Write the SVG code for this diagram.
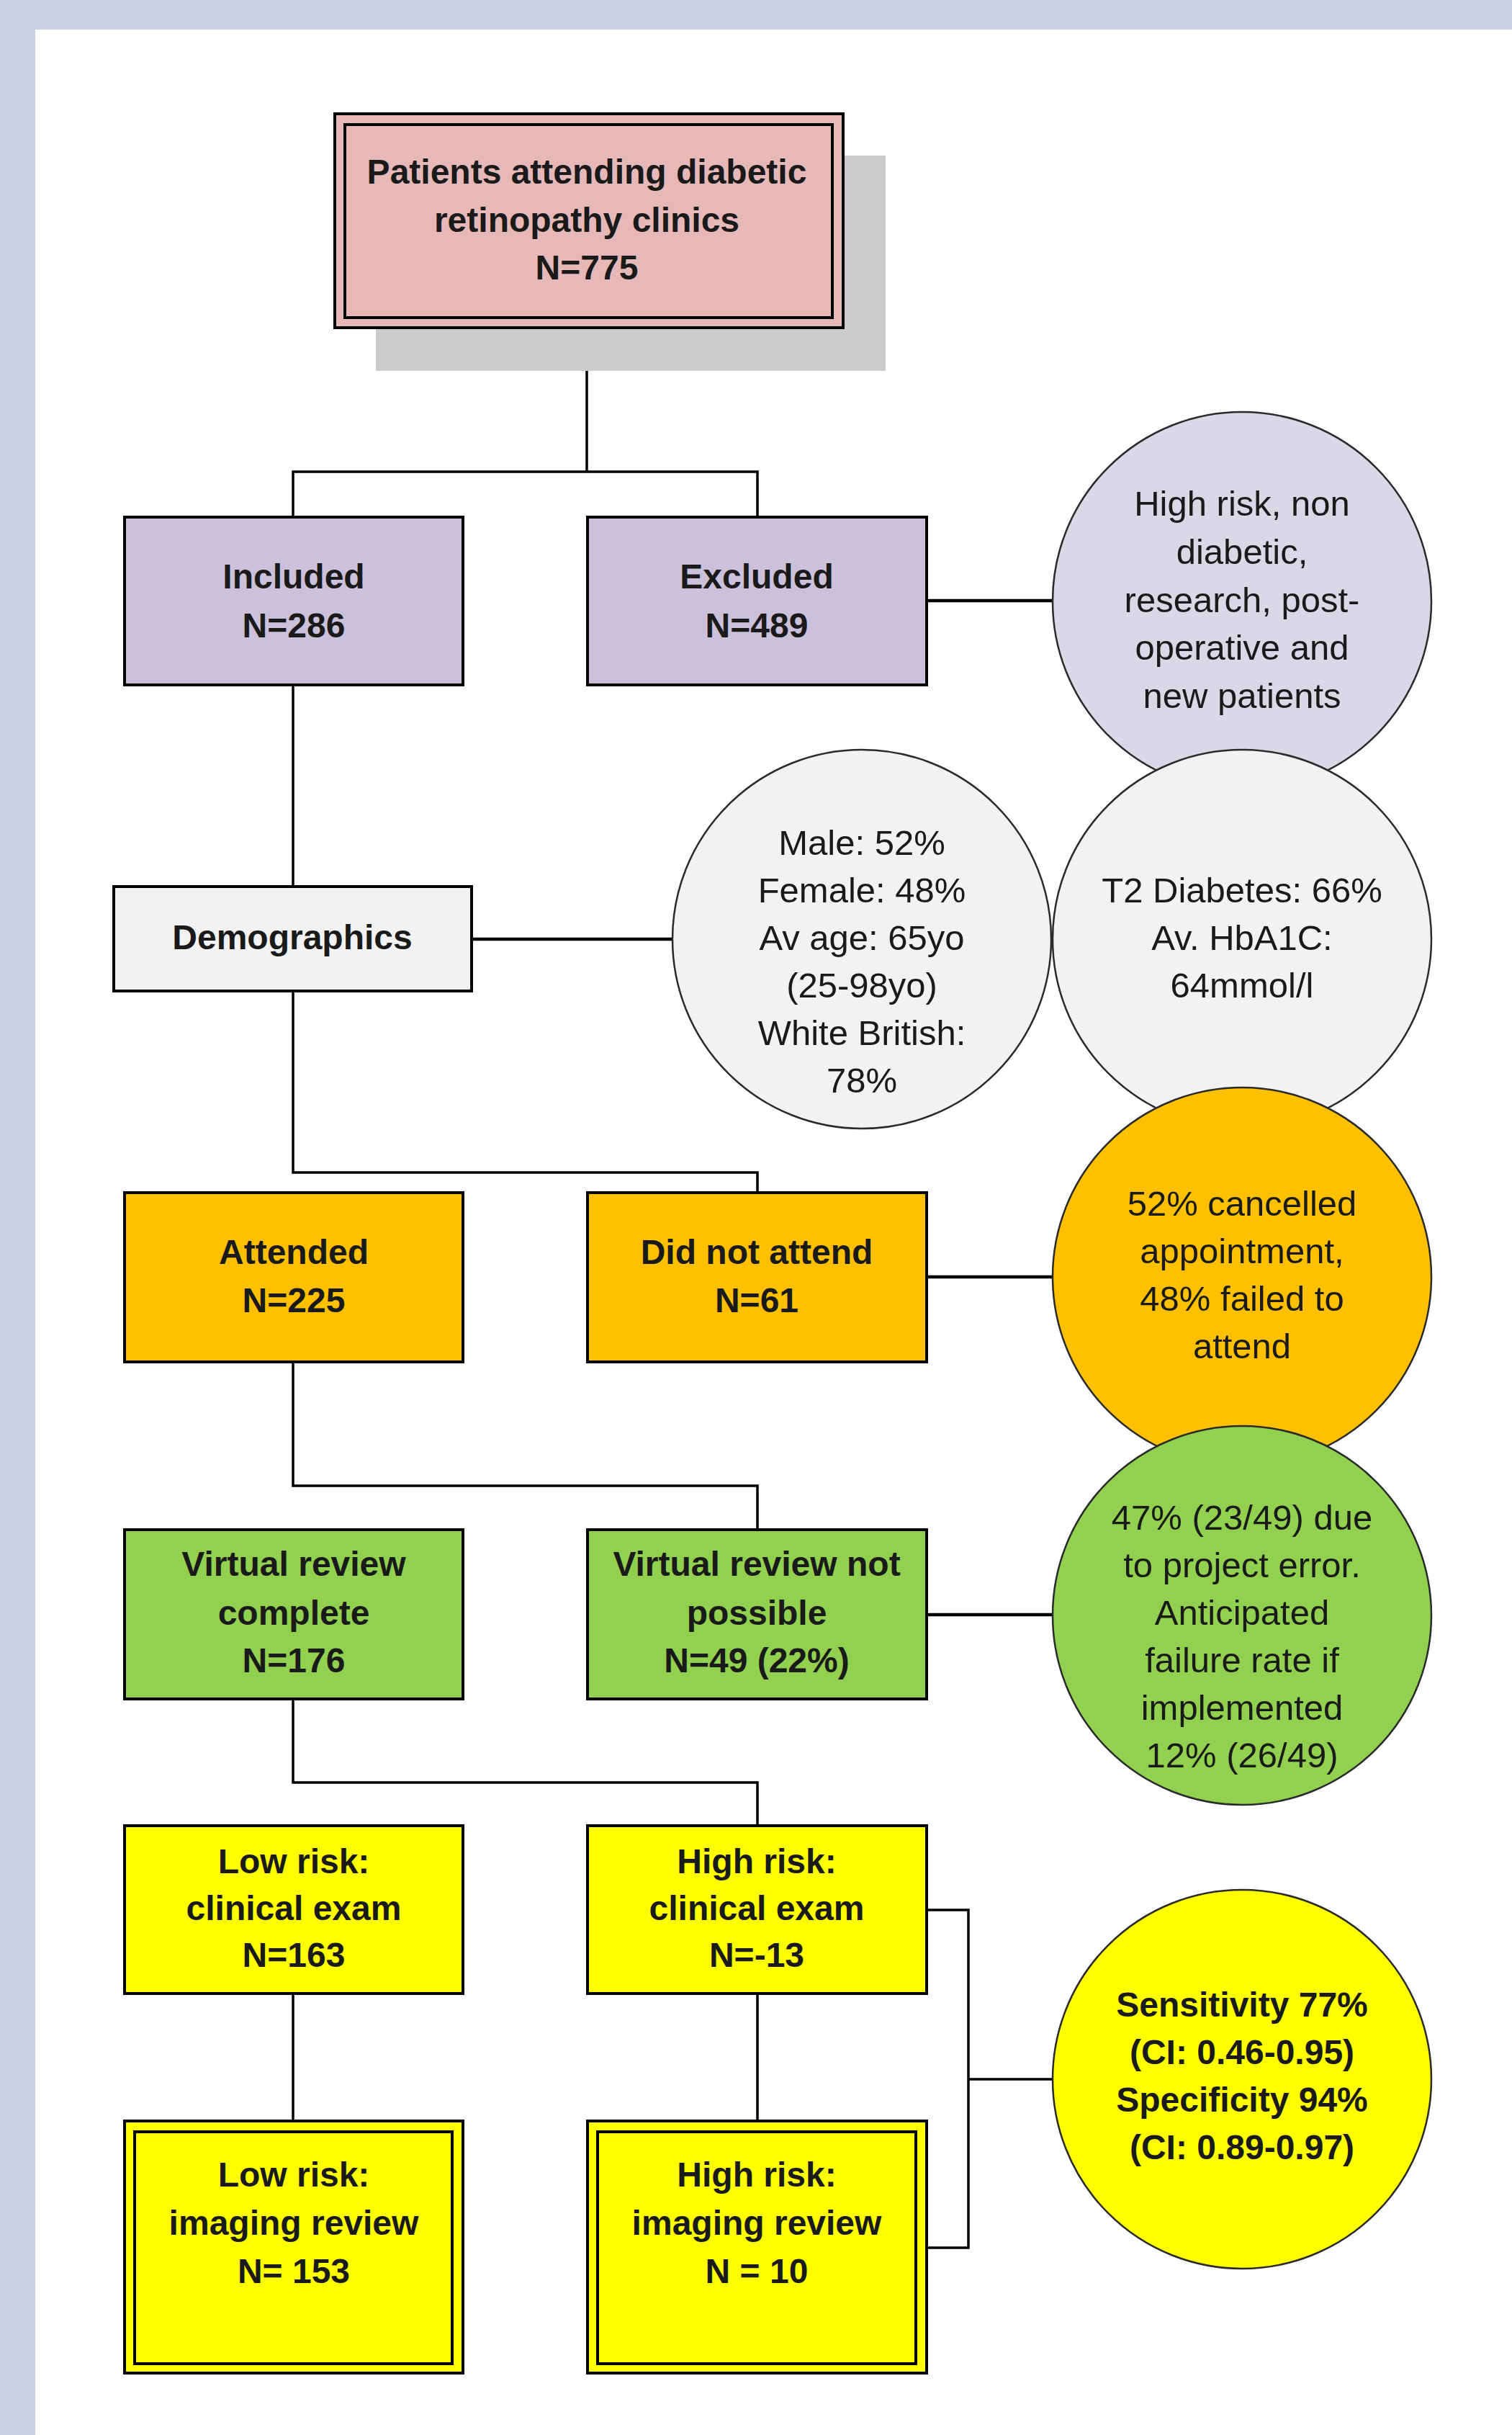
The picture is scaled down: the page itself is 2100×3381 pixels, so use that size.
<svg xmlns="http://www.w3.org/2000/svg" width="2100" height="3381" viewBox="0 0 2100 3381">
<style>
.box{stroke:#000;stroke-width:4}
.circ{stroke:#2b2b2b;stroke-width:2.5}
.ln{stroke:#000;stroke-width:3.5;fill:none}
.lnb{stroke:#000;stroke-width:4.5;fill:none}
text{font-family:"Liberation Sans",Arial,sans-serif;fill:#1a1a1a;text-anchor:middle}
.b{font-weight:bold;font-size:48px}
.r{font-size:49px}
</style>
<rect x="0" y="0" width="2100" height="3381" fill="#C8D1E1"/>
<rect x="49" y="41" width="2051" height="3340" fill="#FFFFFF"/>

<g id="connectors">
<path class="ln" d="M815 455V655M407 718V655H1052V718"/>
<path class="ln" d="M407 951V1628H1052V1656"/>
<path class="ln" d="M407 1891V2063H1052V2124"/>
<path class="ln" d="M407 2359V2475H1052V2535"/>
<path class="ln" d="M407 2768V2945M1052 2768V2945"/>
<path class="ln" d="M1287 2652H1345V3121H1287M1345 2887H1462"/>
<path class="lnb" d="M1287 834H1462"/>
<path class="lnb" d="M655 1304H934"/>
<path class="lnb" d="M1287 1773H1462"/>
<path class="lnb" d="M1287 2242H1462"/>
</g>

<g id="n-patients">
<rect x="522" y="216" width="708" height="299" fill="#CCCCCC"/>
<rect class="box" x="465" y="158" width="706" height="297" fill="#E6B9B8"/>
<rect class="box" x="479" y="173" width="677" height="268" fill="none"/>
<text class="b" x="815" y="255">Patients attending diabetic</text>
<text class="b" x="815" y="322">retinopathy clinics</text>
<text class="b" x="815" y="388">N=775</text>
</g>

<g id="n-included">
<rect class="box" x="173" y="718" width="470" height="233" fill="#CCC1DA"/>
<text class="b" x="408" y="817">Included</text>
<text class="b" x="408" y="885">N=286</text>
</g>
<g id="n-excluded">
<rect class="box" x="816" y="718" width="471" height="233" fill="#CCC1DA"/>
<text class="b" x="1051" y="817">Excluded</text>
<text class="b" x="1051" y="885">N=489</text>
</g>
<g id="n-excl-reasons">
<circle class="circ" cx="1725" cy="835" r="263" fill="#DCD7E6"/>
<text class="r" x="1725" y="716">High risk, non</text>
<text class="r" x="1725" y="783">diabetic,</text>
<text class="r" x="1725" y="850">research, post-</text>
<text class="r" x="1725" y="916">operative and</text>
<text class="r" x="1725" y="983">new patients</text>
</g>

<g id="n-demographics">
<rect class="box" x="158" y="1231" width="497" height="145" fill="#F2F2F2"/>
<text class="b" x="406" y="1318">Demographics</text>
</g>
<g id="n-demo1">
<circle class="circ" cx="1197" cy="1304" r="263" fill="#F2F2F2"/>
<text class="r" x="1197" y="1187">Male: 52%</text>
<text class="r" x="1197" y="1253">Female: 48%</text>
<text class="r" x="1197" y="1319">Av age: 65yo</text>
<text class="r" x="1197" y="1385">(25-98yo)</text>
<text class="r" x="1197" y="1451">White British:</text>
<text class="r" x="1197" y="1517">78%</text>
</g>
<g id="n-demo2">
<circle class="circ" cx="1725" cy="1304" r="263" fill="#F2F2F2"/>
<text class="r" x="1725" y="1253">T2 Diabetes: 66%</text>
<text class="r" x="1725" y="1319">Av. HbA1C:</text>
<text class="r" x="1725" y="1385">64mmol/l</text>
</g>

<g id="n-attended">
<rect class="box" x="173" y="1656" width="470" height="235" fill="#FFC000"/>
<text class="b" x="408" y="1755">Attended</text>
<text class="b" x="408" y="1822">N=225</text>
</g>
<g id="n-dna">
<rect class="box" x="816" y="1656" width="471" height="235" fill="#FFC000"/>
<text class="b" x="1051" y="1755">Did not attend</text>
<text class="b" x="1051" y="1822">N=61</text>
</g>
<g id="n-dna-reasons">
<circle class="circ" cx="1725" cy="1773" r="263" fill="#FFC000"/>
<text class="r" x="1725" y="1688">52% cancelled</text>
<text class="r" x="1725" y="1754">appointment,</text>
<text class="r" x="1725" y="1820">48% failed to</text>
<text class="r" x="1725" y="1886">attend</text>
</g>

<g id="n-vr-complete">
<rect class="box" x="173" y="2124" width="470" height="235" fill="#92D050"/>
<text class="b" x="408" y="2188">Virtual review</text>
<text class="b" x="408" y="2256">complete</text>
<text class="b" x="408" y="2322">N=176</text>
</g>
<g id="n-vr-notpossible">
<rect class="box" x="816" y="2124" width="471" height="235" fill="#92D050"/>
<text class="b" x="1051" y="2188">Virtual review not</text>
<text class="b" x="1051" y="2256">possible</text>
<text class="b" x="1051" y="2322">N=49 (22%)</text>
</g>
<g id="n-vr-reasons">
<circle class="circ" cx="1725" cy="2243" r="263" fill="#92D050"/>
<text class="r" x="1725" y="2124">47% (23/49) due</text>
<text class="r" x="1725" y="2190">to project error.</text>
<text class="r" x="1725" y="2256">Anticipated</text>
<text class="r" x="1725" y="2322">failure rate if</text>
<text class="r" x="1725" y="2388">implemented</text>
<text class="r" x="1725" y="2454">12% (26/49)</text>
</g>

<g id="n-low-clinical">
<rect class="box" x="173" y="2535" width="470" height="233" fill="#FFFF00"/>
<text class="b" x="408" y="2601">Low risk:</text>
<text class="b" x="408" y="2666">clinical exam</text>
<text class="b" x="408" y="2731">N=163</text>
</g>
<g id="n-high-clinical">
<rect class="box" x="816" y="2535" width="471" height="233" fill="#FFFF00"/>
<text class="b" x="1051" y="2601">High risk:</text>
<text class="b" x="1051" y="2666">clinical exam</text>
<text class="b" x="1051" y="2731">N=-13</text>
</g>
<g id="n-low-imaging">
<rect class="box" x="173" y="2945" width="470" height="350" fill="#FFFF00"/>
<rect class="box" x="187" y="2960" width="441" height="322" fill="none"/>
<text class="b" x="408" y="3036">Low risk:</text>
<text class="b" x="408" y="3103">imaging review</text>
<text class="b" x="408" y="3170">N= 153</text>
</g>
<g id="n-high-imaging">
<rect class="box" x="816" y="2945" width="471" height="350" fill="#FFFF00"/>
<rect class="box" x="830" y="2960" width="442" height="322" fill="none"/>
<text class="b" x="1051" y="3036">High risk:</text>
<text class="b" x="1051" y="3103">imaging review</text>
<text class="b" x="1051" y="3170">N = 10</text>
</g>
<g id="n-accuracy">
<circle class="circ" cx="1725" cy="2887" r="263" fill="#FFFF00"/>
<text class="b" x="1725" y="2800">Sensitivity 77%</text>
<text class="b" x="1725" y="2866">(CI: 0.46-0.95)</text>
<text class="b" x="1725" y="2932">Specificity 94%</text>
<text class="b" x="1725" y="2998">(CI: 0.89-0.97)</text>
</g>
</svg>
